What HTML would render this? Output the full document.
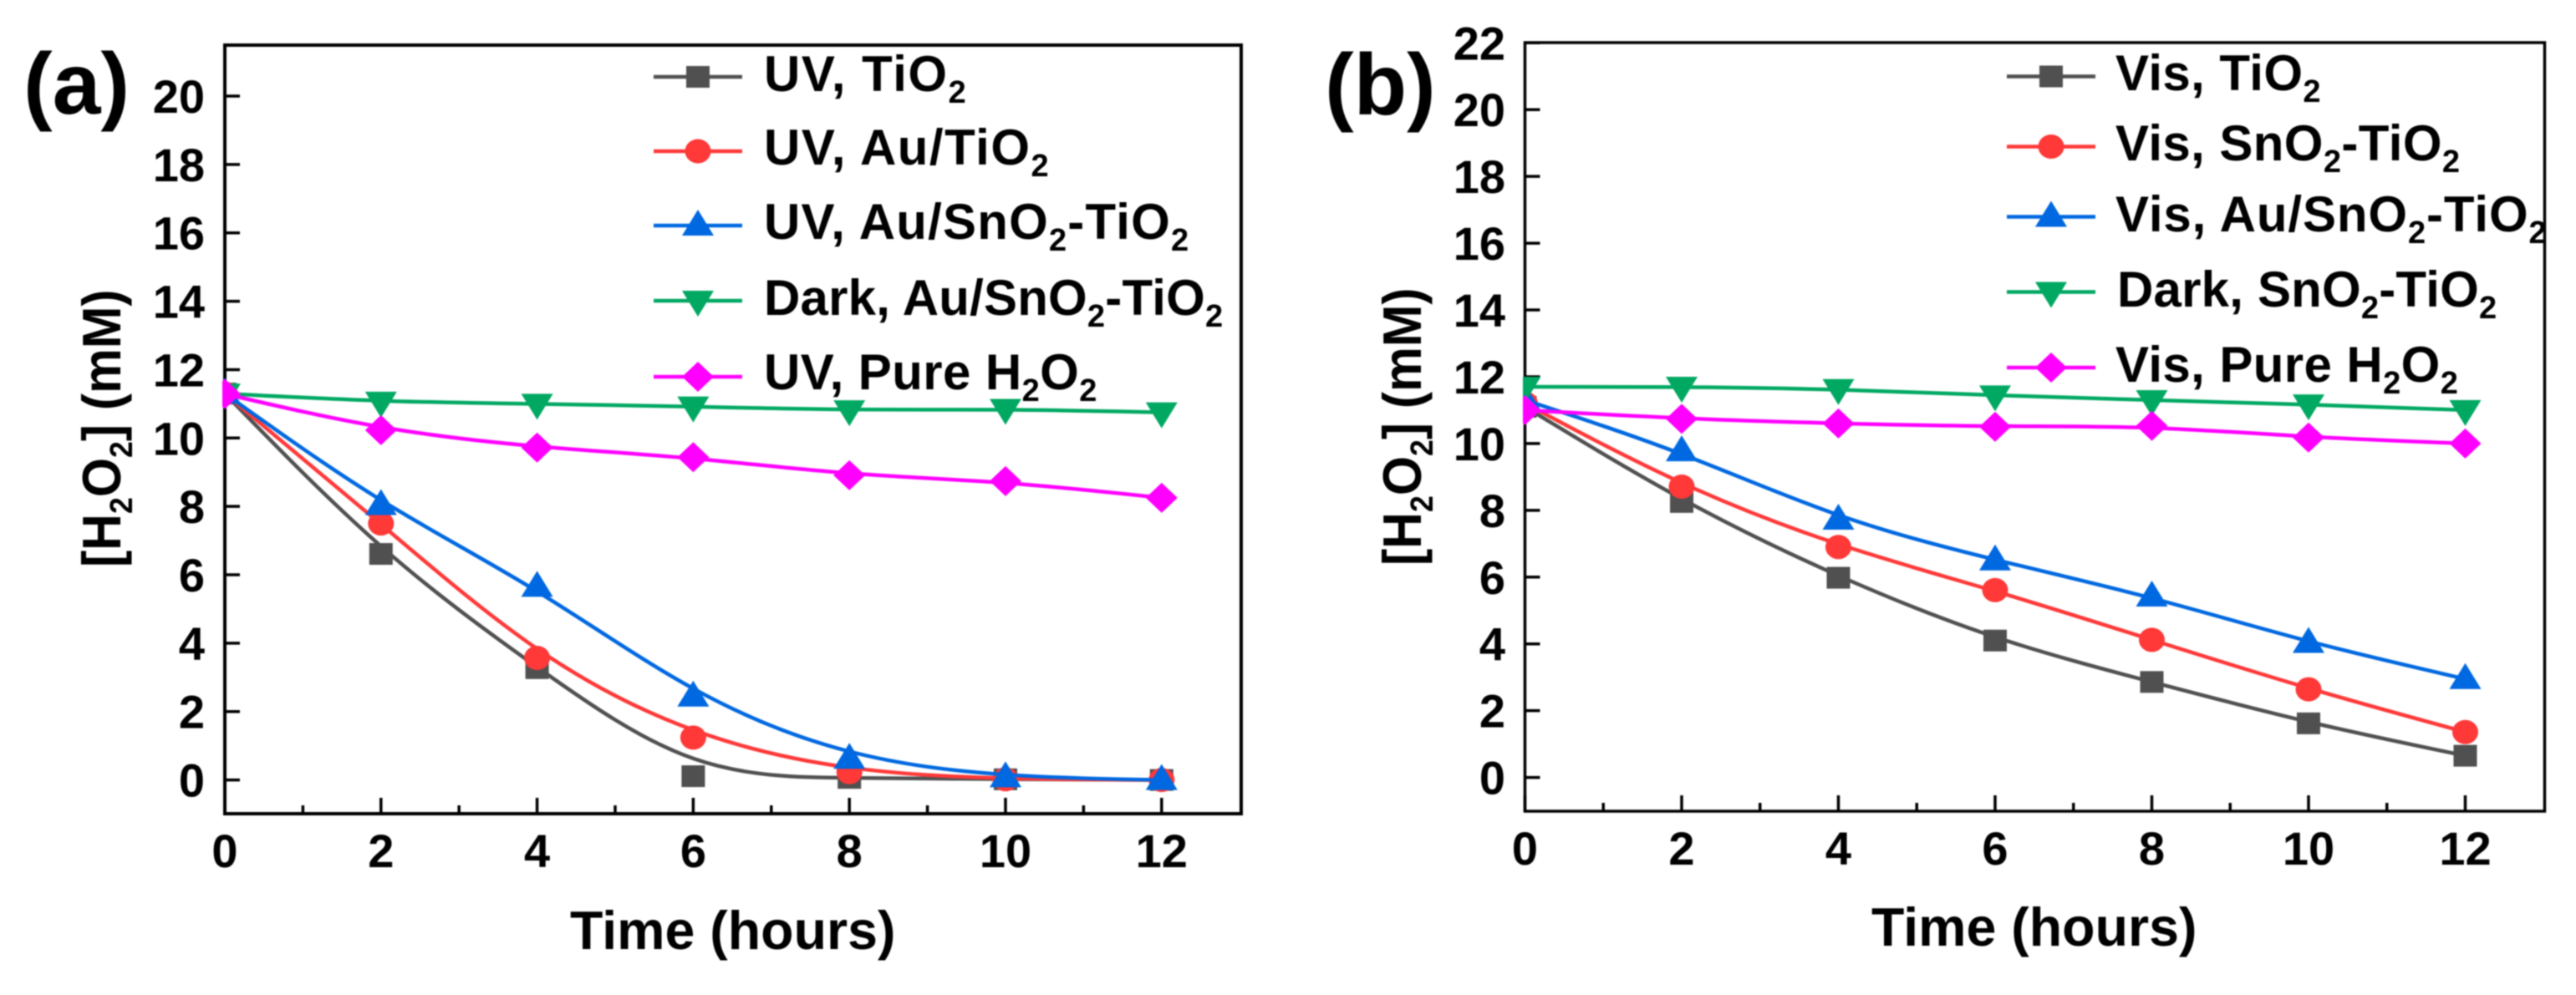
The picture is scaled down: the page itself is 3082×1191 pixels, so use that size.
<!DOCTYPE html>
<html lang="en">
<head>
<meta charset="utf-8">
<title>H2O2 concentration versus time</title>
<style>
html,body{margin:0;padding:0;background:#fff;width:3082px;height:1191px;overflow:hidden}
svg{display:block;filter:blur(0.9px)}
text{font-family:"Liberation Sans",Arial,sans-serif;font-weight:bold;fill:#000}
.leg{font-size:60px}
.sub{font-size:38px}
.tick{font-size:56px}
.axt{font-size:64.5px}
.pan{font-size:104px}
</style>
</head>
<body>
<svg id="figure" xmlns="http://www.w3.org/2000/svg" width="3082" height="1191" viewBox="0 0 3082 1191">
  <rect x="0" y="0" width="3082" height="1191" fill="#fff"/>
  <defs>
    <clipPath id="clipA"><rect x="266" y="50" width="1222" height="926"/></clipPath>
    <clipPath id="clipB"><rect x="1822" y="48" width="1225" height="925"/></clipPath>
  </defs>
  <g id="panelA"></g>
  <g id="panelB"></g>

  <text class="pan" x="28" y="136">(a)</text>
  <text class="pan" x="1585" y="137">(b)</text>

  <text class="axt" transform="translate(144,679) rotate(-90) scale(0.94,1)">[H<tspan class="sub" dy="14">2</tspan><tspan dy="-14">O</tspan><tspan class="sub" dy="14">2</tspan><tspan dy="-14">] (mM)</tspan></text>
  <text class="axt" transform="translate(1700,677) rotate(-90) scale(0.94,1)">[H<tspan class="sub" dy="14">2</tspan><tspan dy="-14">O</tspan><tspan class="sub" dy="14">2</tspan><tspan dy="-14">] (mM)</tspan></text>
  <text class="axt" x="682" y="1136">Time (hours)</text>
  <text class="axt" x="2239" y="1132">Time (hours)</text>

  <text class="leg" x="914" y="109" style="letter-spacing:1.5px">UV, TiO<tspan class="sub" dy="14">2</tspan></text>
  <text class="leg" x="914" y="197" style="letter-spacing:1.5px">UV, Au/TiO<tspan class="sub" dy="14">2</tspan></text>
  <text class="leg" x="914" y="286" style="letter-spacing:1.2px">UV, Au/SnO<tspan class="sub" dy="14">2</tspan><tspan dy="-14">-TiO</tspan><tspan class="sub" dy="14">2</tspan></text>
  <text class="leg" x="914" y="377" style="letter-spacing:0.2px">Dark, Au/SnO<tspan class="sub" dy="14">2</tspan><tspan dy="-14">-TiO</tspan><tspan class="sub" dy="14">2</tspan></text>
  <text class="leg" x="914" y="466" style="letter-spacing:0.4px">UV, Pure H<tspan class="sub" dy="14">2</tspan><tspan dy="-14">O</tspan><tspan class="sub" dy="14">2</tspan></text>

  <text class="leg" x="2531" y="108" style="letter-spacing:0.4px">Vis, TiO<tspan class="sub" dy="14">2</tspan></text>
  <text class="leg" x="2531" y="192" style="letter-spacing:0.4px">Vis, SnO<tspan class="sub" dy="14">2</tspan><tspan dy="-14">-TiO</tspan><tspan class="sub" dy="14">2</tspan></text>
  <text class="leg" x="2531" y="277" style="letter-spacing:0.9px">Vis, Au/SnO<tspan class="sub" dy="14">2</tspan><tspan dy="-14">-TiO</tspan><tspan class="sub" dy="14">2</tspan></text>
  <text class="leg" x="2533" y="367" style="letter-spacing:0.2px">Dark, SnO<tspan class="sub" dy="14">2</tspan><tspan dy="-14">-TiO</tspan><tspan class="sub" dy="14">2</tspan></text>
  <text class="leg" x="2531" y="457" style="letter-spacing:0.4px">Vis, Pure H<tspan class="sub" dy="14">2</tspan><tspan dy="-14">O</tspan><tspan class="sub" dy="14">2</tspan></text>
</svg>
<script>
// ---- data ----
const hours = [0, 2, 4, 6, 8, 10, 12];
const minorHours = [1, 3, 5, 7, 9, 11];
const xTickLabels = ['0', '2', '4', '6', '8', '10', '12'];
const yTickLabelsA = ['0', '2', '4', '6', '8', '10', '12', '14', '16', '18', '20'];
const yTickLabelsB = ['0', '2', '4', '6', '8', '10', '12', '14', '16', '18', '20', '22'];

const uvTiO2 = [11.3, 6.61, 3.27, 0.11, 0.06, 0.02, 0];
const uvAuTiO2 = [11.3, 7.5, 3.57, 1.24, 0.23, 0.02, 0];
const uvAuSnO2TiO2 = [11.3, 8.04, 5.65, 2.44, 0.62, 0.08, 0];
const darkAuSnO2TiO2 = [11.3, 11.06, 11.0, 10.92, 10.81, 10.85, 10.75];
const uvPureH2O2 = [11.29, 10.23, 9.72, 9.44, 8.91, 8.74, 8.25];

const visTiO2 = [11.1, 8.25, 5.98, 4.1, 2.86, 1.62, 0.65];
const visSnO2TiO2 = [11.2, 8.71, 6.9, 5.61, 4.12, 2.64, 1.36];
const visAuSnO2TiO2 = [11.3, 9.77, 7.72, 6.5, 5.42, 4.03, 2.95];
const darkSnO2TiO2 = [11.7, 11.7, 11.63, 11.44, 11.3, 11.17, 11.0];
const visPureH2O2 = [11.0, 10.74, 10.6, 10.5, 10.53, 10.18, 10.0];

// ---- drawing ----
const NS = 'http://www.w3.org/2000/svg';
const GRAY = '#505050', RED = '#ff3838', BLUE = '#0068e0', GREEN = '#00a862', MAGENTA = '#ff00ff';

function make(parent, tag, attrs) {
  const el = document.createElementNS(NS, tag);
  for (const k in attrs) el.setAttribute(k, attrs[k]);
  parent.appendChild(el);
  return el;
}

function marker(parent, kind, x, y, color) {
  if (kind === 'square') return make(parent, 'rect', {x: x - 14, y: y - 13, width: 28, height: 26, fill: color});
  if (kind === 'circle') return make(parent, 'ellipse', {cx: x, cy: y, rx: 15.5, ry: 14.5, fill: color});
  if (kind === 'up') return make(parent, 'polygon', {points: (x) + ',' + (y - 19) + ' ' + (x + 19) + ',' + (y + 12) + ' ' + (x - 19) + ',' + (y + 12), fill: color});
  if (kind === 'down') return make(parent, 'polygon', {points: (x) + ',' + (y + 19) + ' ' + (x + 19) + ',' + (y - 12) + ' ' + (x - 19) + ',' + (y - 12), fill: color});
  return make(parent, 'polygon', {points: x + ',' + (y - 18) + ' ' + (x + 19) + ',' + y + ' ' + x + ',' + (y + 18) + ' ' + (x - 19) + ',' + y, fill: color});
}

// Cubic B-spline through the series control points, clamped at both ends.
function splinePath(xs, ys) {
  const n = xs.length;
  const px = i => i < 0 ? 2 * xs[0] - xs[1] : i >= n ? 2 * xs[n - 1] - xs[n - 2] : xs[i];
  const py = i => i < 0 ? 2 * ys[0] - ys[1] : i >= n ? 2 * ys[n - 1] - ys[n - 2] : ys[i];
  const knot = (p, i) => (p(i - 1) + 4 * p(i) + p(i + 1)) / 6;
  let d = 'M' + knot(px, 0).toFixed(1) + ' ' + knot(py, 0).toFixed(1);
  for (let i = 0; i < n - 1; i++) {
    d += ' C' + ((2 * px(i) + px(i + 1)) / 3).toFixed(1) + ' ' + ((2 * py(i) + py(i + 1)) / 3).toFixed(1) +
         ' ' + ((px(i) + 2 * px(i + 1)) / 3).toFixed(1) + ' ' + ((py(i) + 2 * py(i + 1)) / 3).toFixed(1) +
         ' ' + knot(px, i + 1).toFixed(1) + ' ' + knot(py, i + 1).toFixed(1);
  }
  return d;
}

function drawPanel(cfg) {
  const root = document.getElementById(cfg.id);
  const sx = v => cfg.x0 + v * cfg.xUnit;
  const sy = v => cfg.y0 - v * cfg.yUnit;

  const frame = make(root, 'rect', {x: cfg.left, y: cfg.top, width: cfg.right - cfg.left, height: cfg.bottom - cfg.top, fill: 'none', stroke: '#000', 'stroke-width': cfg.frameWidth});
  
  

  cfg.xLabels.forEach(function (label, i) {
    const x = sx(Number(label));
    const tick = make(root, 'line', {x1: x, x2: x, y1: cfg.bottom, y2: cfg.bottom - 19, stroke: '#000', 'stroke-width': 3.5});
    
    
    const t = make(root, 'text', {x: x, y: cfg.xLabelBase, 'text-anchor': 'middle', class: 'tick'});
    t.textContent = label;
    
    
  });
  minorHours.forEach(function (h) {
    const x = sx(h);
    const tick = make(root, 'line', {x1: x, x2: x, y1: cfg.bottom, y2: cfg.bottom - 10, stroke: '#000', 'stroke-width': 3.5});
    
    
  });
  cfg.yLabels.forEach(function (label) {
    const y = sy(Number(label));
    const tick = make(root, 'line', {x1: cfg.left, x2: cfg.left + 18, y1: y, y2: y, stroke: '#000', 'stroke-width': 3.5});
    
    
    const t = make(root, 'text', {x: cfg.yLabelRight, y: y + 20, 'text-anchor': 'end', class: 'tick'});
    t.textContent = label;
    
    
  });

  cfg.series.forEach(function (s, si) {
    const g = make(root, 'g', {'clip-path': 'url(#' + cfg.clip + ')'});
    
    
    const path = make(g, 'path', {d: splinePath(hours.map(sx), s.values.map(sy)), fill: 'none', stroke: s.color, 'stroke-width': 4.5});
    
    
    s.values.forEach(function (v, i) {
      const m = marker(g, s.kind, sx(hours[i]), sy(v), s.markerColor || s.color);
      
      
    });
    const ly = cfg.legendY[si];
    const ll = make(root, 'line', {x1: cfg.legendX1, x2: cfg.legendX2, y1: ly, y2: ly, stroke: s.color, 'stroke-width': 4.5});
    
    
    const lm = marker(root, s.kind, (cfg.legendX1 + cfg.legendX2) / 2, ly, s.markerColor || s.color);
    
    
  });
}

drawPanel({
  id: 'panelA', prefix: 'panel-a', clip: 'clipA',
  left: 269, right: 1485, top: 54, bottom: 974,
  frameWidth: 4, x0: 269, xUnit: 93.4, y0: 933.6, yUnit: 40.93,
  xLabelBase: 1038, yLabelRight: 245,
  xLabels: xTickLabels, yLabels: yTickLabelsA,
  legendX1: 782, legendX2: 888, legendY: [92, 181, 270, 360, 451],
  series: [
    {key: 'uv-tio2', values: uvTiO2, color: GRAY, kind: 'square'},
    {key: 'uv-au-tio2', values: uvAuTiO2, color: RED, kind: 'circle'},
    {key: 'uv-au-sno2-tio2', values: uvAuSnO2TiO2, color: BLUE, kind: 'up'},
    {key: 'dark-au-sno2-tio2', values: darkAuSnO2TiO2, color: GREEN, kind: 'down'},
    {key: 'uv-pure-h2o2', values: uvPureH2O2, color: MAGENTA, kind: 'diamond'}
  ]
});

drawPanel({
  id: 'panelB', prefix: 'panel-b', clip: 'clipB',
  left: 1824.5, right: 3044.5, top: 51, bottom: 971,
  frameWidth: 3.5, x0: 1824.5, xUnit: 93.75, y0: 930.6, yUnit: 39.97,
  xLabelBase: 1035, yLabelRight: 1801,
  xLabels: xTickLabels, yLabels: yTickLabelsB,
  legendX1: 2401, legendX2: 2507, legendY: [91.5, 175.5, 259.5, 349.5, 440],
  series: [
    {key: 'vis-tio2', values: visTiO2, color: GRAY, kind: 'square'},
    {key: 'vis-sno2-tio2', values: visSnO2TiO2, color: RED, kind: 'circle'},
    {key: 'vis-au-sno2-tio2', values: visAuSnO2TiO2, color: BLUE, kind: 'up'},
    {key: 'dark-sno2-tio2', values: darkSnO2TiO2, color: GREEN, kind: 'down'},
    {key: 'vis-pure-h2o2', values: visPureH2O2, color: MAGENTA, kind: 'diamond'}
  ]
});
</script>
</body>
</html>
